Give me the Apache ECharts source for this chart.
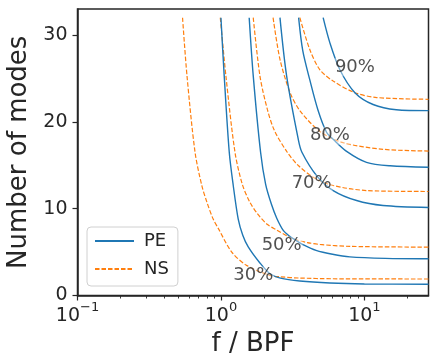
<!DOCTYPE html>
<html>
<head>
<meta charset="utf-8">
<script src="https://cdn.jsdelivr.net/npm/echarts@6/dist/echarts.min.js"></script>
<style>
  html, body { margin: 0; padding: 0; background: #fff; }
  #chart { width: 430px; height: 358px; }
</style>
</head>
<body>
<div id="chart"></div>
<script>
// curves: [f / BPF, number of modes]
const pe30 = [[1.0, 32], [1.054, 25.3], [1.143, 16.5], [1.218, 12.7], [1.32, 8.8], [1.42, 6.95], [1.55, 5.6], [1.87, 3.75], [2.2, 2.5], [2.6, 2.0], [3.55, 1.67], [5.75, 1.44], [10, 1.33], [28, 1.29]];
const pe50 = [[1.574, 32], [1.68, 25.3], [1.89, 16.5], [2.05, 12.8], [2.25, 10.5], [2.45, 8.9], [2.72, 7.5], [3.0, 6.85], [3.3, 6.4], [3.8, 5.8], [4.6, 5.2], [6, 4.75], [7.92, 4.45], [14, 4.28], [28, 4.23]];
const pe70 = [[2.58, 32], [2.87, 25.3], [3.46, 18.0], [3.67, 16.5], [4.65, 13.8], [6.06, 12.09], [8.83, 10.94], [13.5, 10.37], [28, 10.14]];
const pe80 = [[3.48, 32], [3.72, 28.2], [4.17, 24.8], [4.74, 21.4], [5.45, 18.8], [6.06, 18.0], [7.52, 16.6], [10.35, 15.34], [15.1, 14.94], [28, 14.77]];
const pe90 = [[5.16, 32], [5.75, 29.1], [6.75, 26.0], [8.59, 23.36], [11.5, 22.0], [16.7, 21.4], [28, 21.3]];

const ns30 = [[0.54, 32], [0.58, 25.3], [0.66, 16.5], [0.735, 12.7], [0.8, 10.7], [0.883, 8.8], [0.96, 7.7], [1.19, 5.0], [1.51, 3.47], [2.19, 2.32], [2.6, 2.15], [3.55, 2.01], [6, 1.93], [28, 1.9]];
const ns50 = [[0.99, 32], [1.083, 25.3], [1.253, 16.5], [1.41, 12.8], [1.59, 10.75], [1.8, 9.4], [2.1, 8.2], [2.44, 7.55], [2.9, 6.85], [3.3, 6.45], [4.0, 6.1], [4.9, 5.88], [7.92, 5.66], [28, 5.57]];
const ns70 = [[1.68, 32], [1.87, 25.3], [2.11, 21.4], [2.36, 19.0], [2.9, 16.5], [3.46, 14.97], [4.52, 13.5], [6.06, 12.67], [10.35, 12.09], [28, 11.98]];
const ns80 = [[2.31, 32], [2.58, 27.2], [3.03, 23.4], [3.55, 21.3], [4.9, 18.9], [7.12, 17.6], [13.5, 16.84], [28, 16.64]];
const ns90 = [[3.55, 32], [4.17, 28.3], [4.9, 26.0], [6.06, 24.7], [8.59, 23.36], [12.2, 22.8], [28, 22.6]];

const levelTexts = ["30%", "50%", "70%", "80%", "90%"];
const levelPos = [[1.68, 2.3], [2.65, 5.75], [4.29, 12.9], [5.75, 18.4], [8.59, 26.3]];

const xTicks = [0.1, 1, 10];
const xMinorTicks = [0.2, 0.3, 0.4, 0.5, 0.6, 0.7, 0.8, 0.9, 2, 3, 4, 5, 6, 7, 8, 9, 20];
const yTicks = [0, 10, 20, 30];

const font = "DejaVu Sans";
const ink = "#262626";
const blue = "#1f77b4";
const orange = "#ff7f0e";

const chart = echarts.init(document.getElementById("chart"), null, { renderer: "canvas" });

//superscript exponent labels like matplotlib
function powLabel(v) {
  const e = Math.round(Math.log10(v));
  const s = e < 0 ? "\u2212" + Math.abs(e) : "" + e;
  return "{b|10}{s|" + s + "}";
}

function peLine(data) {
  return {
    name: "PE",
    type: "line",
    data: data,
    symbol: "none",
    smooth: 0.3,
    lineStyle: { color: blue, width: 1.4 },
    itemStyle: { color: blue },
    z: 3,
  };
}

function nsLine(data) {
  return {
    name: "NS",
    type: "line",
    data: data,
    symbol: "none",
    smooth: 0.3,
    lineStyle: { color: orange, width: 1.2, type: [4.5, 2] },
    itemStyle: { color: orange },
    z: 2,
  };
}

chart.setOption({
  animation: false,
  backgroundColor: "#fff",
  textStyle: { fontFamily: font },
  grid: {
    left: 77.5,
    right: 1.5,
    top: 9,
    bottom: 62.5,
    outerBoundsMode: "none",
    show: true,
    borderColor: ink,
    borderWidth: 1.5,
    backgroundColor: "transparent",
  },
  legend: {
    orient: "vertical",
    left: 87,
    top: 227,
    data: ["PE", "NS"],
    itemWidth: 39,
    itemHeight: 14,
    itemGap: 10,
    padding: [5, 9, 8, 7],
    borderColor: "#d0d0d0",
    borderWidth: 1,
    borderRadius: 4,
    backgroundColor: "rgba(255,255,255,0.8)",
    itemStyle: { opacity: 0 },
    textStyle: {
      fontFamily: font,
      fontSize: 18,
      lineHeight: 18,
      color: ink,
      padding: [0, 0, 0, 5],
    },
  },
  xAxis: [
    {
      type: "log",
      logBase: 10,
      min: 0.1,
      max: 28,
      name: "f / BPF",
      nameLocation: "middle",
      nameGap: 36,
      nameTextStyle: { fontFamily: font, fontSize: 26, color: ink },
      axisLine: { show: true, lineStyle: { color: ink, width: 1.5 } },
      axisTick: { show: true, length: 5, customValues: xTicks, lineStyle: { color: ink, width: 1.2 } },
      axisLabel: {
        customValues: xTicks,
        margin: 6,
        formatter: powLabel,
        rich: {
          b: { fontFamily: font, fontSize: 19, color: ink, lineHeight: 24, verticalAlign: "bottom" },
          s: { fontFamily: font, fontSize: 13, color: ink, lineHeight: 14, verticalAlign: "top" },
        },
      },
      splitLine: { show: false },
      minorTick: { show: false },
    },
    {
      type: "log",
      logBase: 10,
      min: 0.1,
      max: 28,
      position: "bottom",
      axisLine: { show: false },
      axisTick: { show: true, length: 3, customValues: xMinorTicks, lineStyle: { color: ink, width: 0.9 } },
      axisLabel: { show: false },
      splitLine: { show: false },
    },
  ],
  yAxis: {
    type: "value",
    min: 0,
    max: 33,
    name: "Number of modes",
    nameLocation: "middle",
    nameGap: 44,
    nameTextStyle: { fontFamily: font, fontSize: 26, color: ink },
    axisLine: { show: true, lineStyle: { color: ink, width: 1.5 } },
    axisTick: { show: true, length: 5, customValues: yTicks, lineStyle: { color: ink, width: 1.2 } },
    axisLabel: { customValues: yTicks, margin: 10, fontFamily: font, fontSize: 19, color: ink },
    splitLine: { show: false },
  },
  series: [
    peLine(pe30),
    peLine(pe50),
    peLine(pe70),
    peLine(pe80),
    peLine(pe90),
    nsLine(ns30),
    nsLine(ns50),
    nsLine(ns70),
    nsLine(ns80),
    nsLine(ns90),
    {
      name: "levels",
      type: "scatter",
      symbolSize: 0,
      silent: true,
      z: 10,
      data: levelPos.map((p, i) => ({ value: p, name: levelTexts[i] })),
      label: {
        show: true,
        position: "inside",
        formatter: "{b}",
        fontFamily: font,
        fontSize: 18,
        color: ink,
        backgroundColor: "rgba(255,255,255,0.5)",
        padding: [0, 1],
      },
    },
  ],
});
</script>
</body>
</html>
